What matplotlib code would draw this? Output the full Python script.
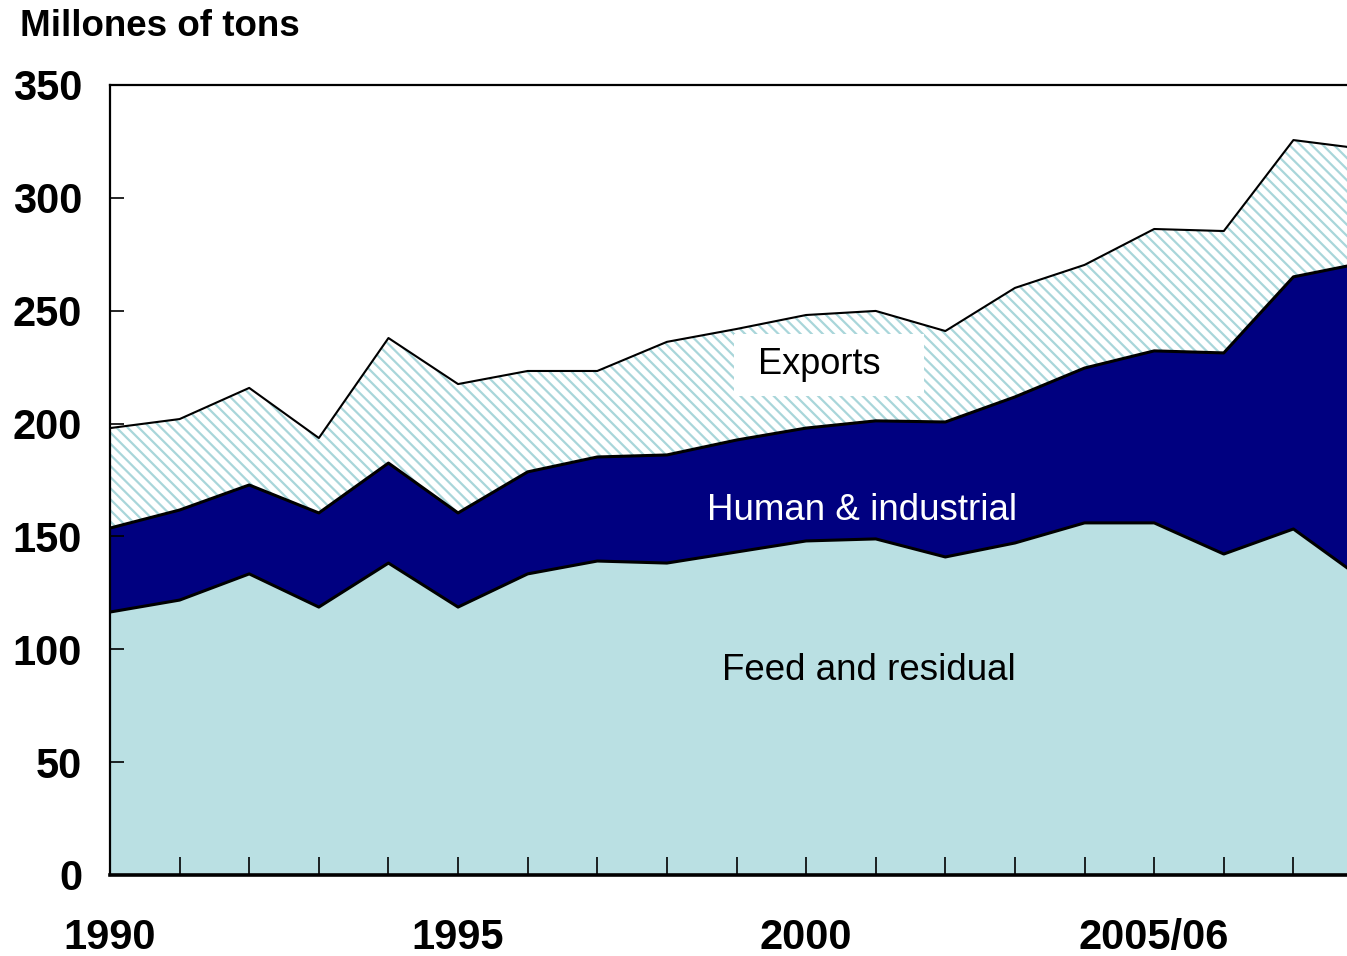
import matplotlib.pyplot as plt
import numpy as np

plt.rcParams['font.family'] = ['Liberation Sans', 'DejaVu Sans']
plt.rcParams['hatch.color'] = '#a9d6da'
plt.rcParams['hatch.linewidth'] = 1.6

years = np.arange(1990, 2009)
# cumulative tops (million tons)
feed = [116.5, 121.8, 133.4, 118.7, 138.2, 118.7, 133.4, 139.1, 138.2, 143.1,
        148.0, 148.9, 140.9, 147.1, 156.0, 156.0, 142.2, 153.3, 131.0]
human_top = [153.7, 161.7, 172.8, 160.4, 182.5, 160.4, 178.6, 185.2, 186.1, 192.7,
             198.0, 201.2, 200.7, 211.8, 224.6, 232.2, 231.3, 265.0, 271.2]
total = [198.0, 202.0, 215.8, 193.6, 237.9, 217.5, 223.3, 223.3, 236.2, 241.9,
         248.1, 249.9, 241.0, 260.1, 270.3, 286.2, 285.3, 325.6, 321.7]

xtick_pos = [1990, 1995, 2000, 2005]
xtick_labels = ['1990', '1995', '2000', '2005/06']
ytick_pos = [0, 50, 100, 150, 200, 250, 300, 350]

fig = plt.figure(figsize=(13.47, 9.56), dpi=100)
ax = fig.add_axes([110 / 1347, 1 - 875 / 956, 1237 / 1347, 790 / 956])

ax.fill_between(years, 0, feed, color='#bae0e3', lw=0)
ax.fill_between(years, feed, human_top, color='#000080', lw=0)
ax.fill_between(years, human_top, total, facecolor='white', edgecolor='#a9d6da',
                hatch='\\\\\\', lw=0)

ax.plot(years, feed, color='black', lw=2.2)
ax.plot(years, human_top, color='black', lw=2.2)
ax.plot(years, total, color='black', lw=1.5)

ax.set_xlim(1990, 2007.77)
ax.set_ylim(0, 350)

ax.set_xticks(xtick_pos)
ax.set_xticklabels(xtick_labels)
ax.set_xticks(years[:-1], minor=True)
ax.set_yticks(ytick_pos)

ax.tick_params(axis='x', which='both', direction='in', length=13, width=1.2,
               pad=31, labelsize=30)
ax.tick_params(axis='y', direction='in', length=10, width=1.2, pad=20, labelsize=30)
for lab in ax.get_xticklabels() + ax.get_yticklabels():
    lab.set_fontweight('bold')

for s in ['left', 'top']:
    ax.spines[s].set_linewidth(1.6)
ax.spines['bottom'].set_linewidth(2.6)
ax.spines['right'].set_visible(False)

ax.text(2000.33, 226.0, ' Exports   ', fontsize=26, ha='center', va='center', color='black',
        bbox=dict(facecolor='white', edgecolor='none', pad=10))
ax.text(2000.8, 161.5, 'Human & industrial', fontsize=26.5, ha='center', va='center',
        color='white')
ax.text(2000.9, 90.5, 'Feed and residual', fontsize=26.5, ha='center', va='center',
        color='black')

fig.text(20 / 1347, 1 - 27 / 956, 'Millones of tons', fontsize=26.5, fontweight='bold',
         ha='left', va='center')

fig.savefig('out.png', dpi=100)
